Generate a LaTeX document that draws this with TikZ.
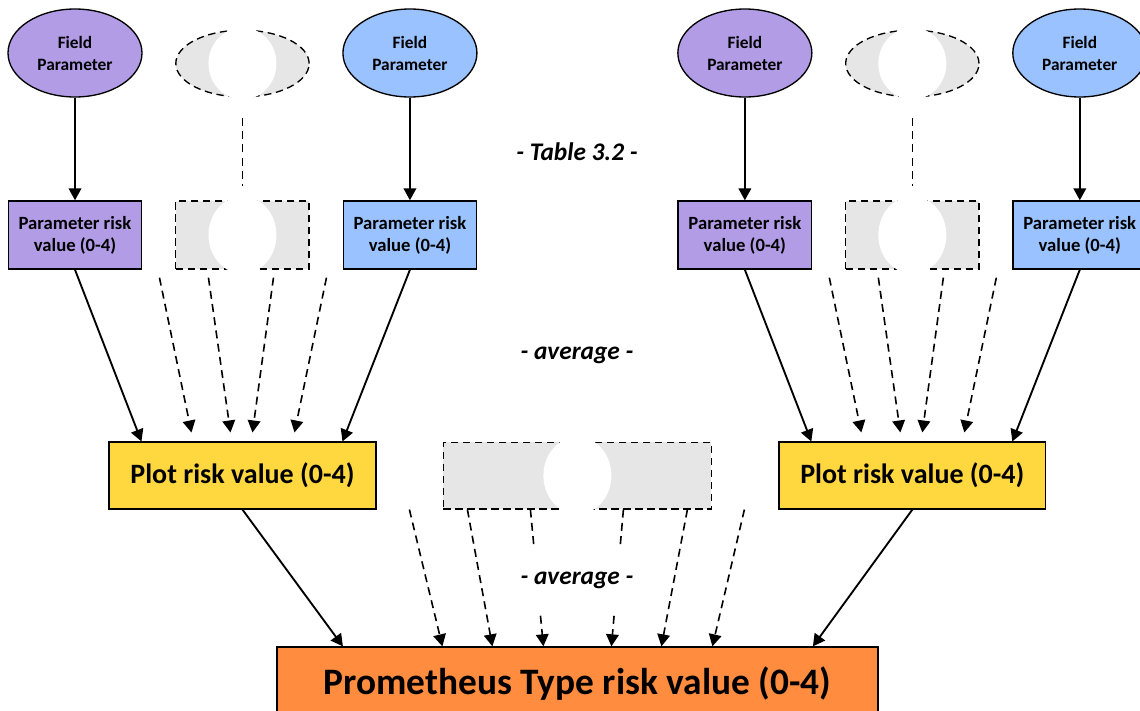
\documentclass[tikz,border=0pt]{standalone}
\usepackage{fontspec}
\setmainfont{Carlito}
\usetikzlibrary{shapes, arrows.meta, calc}

\definecolor{fieldpurple}{HTML}{B39CE6}
\definecolor{fieldblue}{HTML}{99C2FF}
\definecolor{ghostgray}{HTML}{E6E6E6}
\definecolor{plotyellow}{HTML}{FFD83F}
\definecolor{typeorange}{HTML}{FF8C3F}

\tikzstyle{field} = [ellipse, draw=black, line width=1pt, minimum width=100.5pt, minimum height=66pt, inner sep=0pt, align=center, font=\fontsize{13}{16.5}\selectfont\bfseries]
\tikzstyle{riskbox} = [rectangle, draw=black, line width=1.1pt, minimum width=100pt, minimum height=51pt, inner sep=0pt, align=center, font=\fontsize{14}{16.5}\selectfont\bfseries]
\tikzstyle{ghostEll} = [ellipse, draw=black, fill=ghostgray, line width=1pt, dash pattern=on 5.5pt off 3.5pt, minimum width=100pt, minimum height=50pt]
\tikzstyle{ghostBox} = [rectangle, draw=black, fill=ghostgray, line width=1pt, dash pattern=on 5.5pt off 3.5pt, minimum width=100pt, minimum height=51pt]
\tikzstyle{plotbox} = [rectangle, draw=black, fill=plotyellow, line width=1.1pt, minimum width=200pt, minimum height=50pt, font=\fontsize{21}{25}\selectfont\bfseries]
\tikzstyle{typebox} = [rectangle, draw=black, fill=typeorange, line width=1.1pt, minimum width=450.75pt, minimum height=55.5pt, font=\fontsize{28}{32}\selectfont\bfseries]
\tikzstyle{note} = [font=\fontsize{19}{22}\selectfont\bfseries\itshape]
\tikzstyle{gap} = [fill=white]
\tikzstyle{arrow} = [line width=1.4pt, -{Triangle[length=9pt,width=9.5pt]}]
\tikzstyle{dasharrow} = [line width=1.2pt, dash pattern=on 6pt off 4pt, -{Triangle[length=9pt,width=9.5pt]}]
\tikzstyle{dashline} = [line width=1.2pt, dash pattern=on 6pt off 4pt]

\begin{document}
\begin{tikzpicture}[x=0.75pt, y=-0.75pt, node distance=125.6pt]
    \useasboundingbox (0,0) rectangle (1140,711);

    % left group of parameters
    \node (fpA) [field, fill=fieldpurple] at (75,53) {Field\\Parameter};
    \node (gEA) [ghostEll, right of=fpA, yshift=-7.9pt] {};
    \node (fpB) [field, fill=fieldblue, right of=gEA, yshift=7.9pt] {Field\\Parameter};
    \node (prA) [riskbox, fill=fieldpurple, below of=fpA, yshift=-10.9pt] {Parameter risk\\value (0-4)};
    \node (gBA) [ghostBox, right of=prA] {};
    \node (prB) [riskbox, fill=fieldblue, right of=gBA] {Parameter risk\\value (0-4)};

    % plot level
    \node (plotA) [plotbox, below of=gBA, yshift=-54.8pt] {Plot risk value (0-4)};
    \node (gM) [ghostBox, right of=plotA, xshift=125.6pt, minimum width=201pt, minimum height=50pt] {};
    \node (plotB) [plotbox, right of=gM, xshift=125.6pt] {Plot risk value (0-4)};

    % right group of parameters
    \node (gBB) [ghostBox, above of=plotB, yshift=54.8pt] {};
    \node (prC) [riskbox, fill=fieldpurple, left of=gBB] {Parameter risk\\value (0-4)};
    \node (prD) [riskbox, fill=fieldblue, right of=gBB] {Parameter risk\\value (0-4)};
    \node (gEB) [ghostEll, above of=gBB, yshift=3pt] {};
    \node (fpC) [field, fill=fieldpurple, left of=gEB, yshift=7.9pt] {Field\\Parameter};
    \node (fpD) [field, fill=fieldblue, right of=gEB, yshift=7.9pt] {Field\\Parameter};

    \node (ptype) [typebox, below of=gM, yshift=-30.8pt] {Prometheus Type risk value (0-4)};

    \node (tbl) [note] at (577,152) {- Table 3.2 -};
    \node (avgTop) [note] at (577,355) {- average -};

    % ghost links and gaps
    \draw[dashline, shorten <=15pt, shorten >=11pt] (gEA) -- (gBA);
    \draw[dashline, shorten <=15pt, shorten >=11pt] (gEB) -- (gBB);
    \fill[white] (gEA.center) ellipse [x radius=25.5pt, y radius=27pt];
    \fill[white] (gEB.center) ellipse [x radius=25.5pt, y radius=27pt];
    \fill[white] (gBA.center) ellipse [x radius=25.5pt, y radius=29pt];
    \fill[white] (gBB.center) ellipse [x radius=25.5pt, y radius=29pt];
    \fill[white] (gM.center) ellipse [x radius=25.5pt, y radius=29pt];

    \draw[arrow] (fpA) -- (prA);
    \draw[arrow] (fpB) -- (prB);
    \draw[arrow] (fpC) -- (prC);
    \draw[arrow] (fpD) -- (prD);

    \coordinate (inA1) at ($(plotA.north)+(-101,0)$);
    \coordinate (inA2) at ($(plotA.north)+(100,0)$);
    \coordinate (inB1) at ($(plotB.north)+(-101,0)$);
    \coordinate (inB2) at ($(plotB.north)+(100,0)$);
    \draw[arrow] (prA.south) -- (inA1);
    \draw[arrow] (prB.south) -- (inA2);
    \draw[arrow] (prC.south) -- (inB1);
    \draw[arrow] (prD.south) -- (inB2);

    \foreach \g/\p in {A/plotA, B/plotB} {
        \foreach \i/\s/\e in {1/-83/-51, 2/-34/-12, 3/31/10, 4/84/52} {
            \coordinate (s\g\i) at ($(gB\g.south)+(\s,8)$);
            \coordinate (e\g\i) at ($(\p.north)+(\e,-9)$);
            \draw[dasharrow] (s\g\i) -- (e\g\i);
        }
    }

    % type level
    \coordinate (inT1) at ($(ptype.north)+(-234.5,0)$);
    \coordinate (inT2) at ($(ptype.north)+(235.5,0)$);
    \draw[arrow] (plotA.south) -- (inT1);
    \draw[arrow] (plotB.south) -- (inT2);

    \foreach \i/\s/\e in {1/-168/-135, 2/-110/-85, 3/-47/-34, 4/46/34, 5/110/84, 6/167/135} {
        \coordinate (sM\i) at ($(gM.south)+(\s,0)$);
        \coordinate (eM\i) at ($(ptype.north)+(\e,0)$);
        \draw[dasharrow] (sM\i) -- (eM\i);
    }

    \node (avgLow) [note, gap, minimum height=52.5pt] at (577,580) {- average -};

\end{tikzpicture}
\end{document}
